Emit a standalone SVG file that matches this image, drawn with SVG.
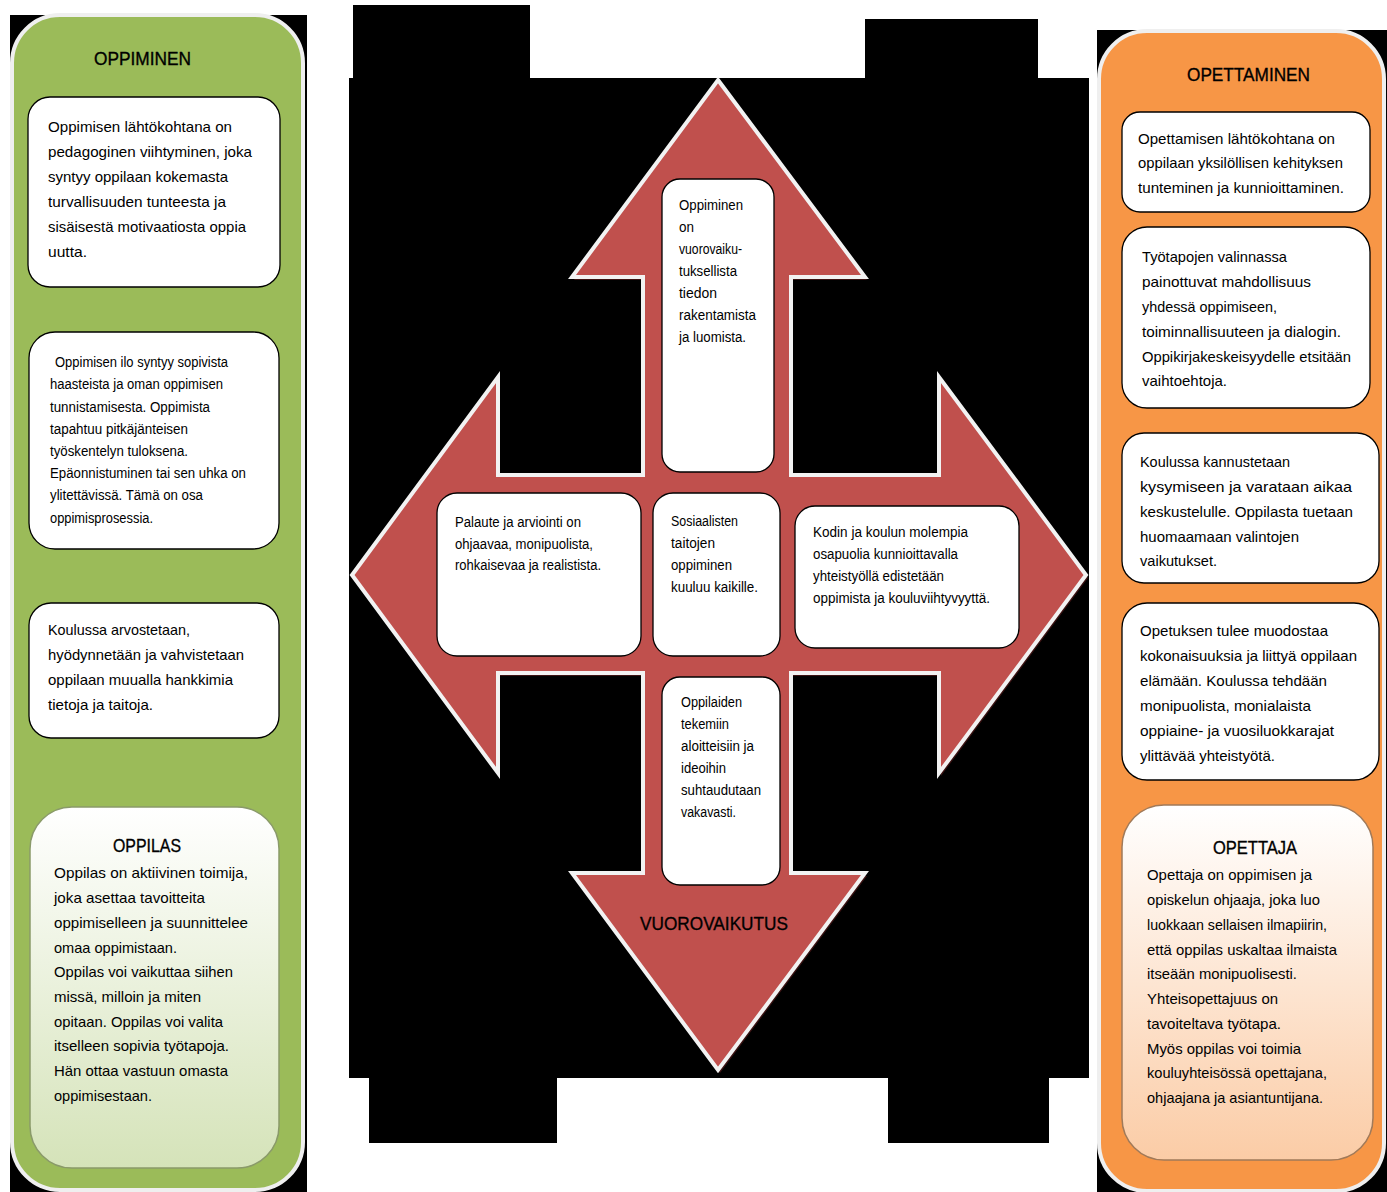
<svg xmlns="http://www.w3.org/2000/svg" width="1387" height="1192" viewBox="0 0 1387 1192">
<defs>
<linearGradient id="gG" x1="0" y1="0" x2="0" y2="1"><stop offset="0" stop-color="#ffffff"/><stop offset="1" stop-color="#d5e3b9"/></linearGradient>
<linearGradient id="gO" x1="0" y1="0" x2="0" y2="1"><stop offset="0" stop-color="#ffffff"/><stop offset="1" stop-color="#fbcca6"/></linearGradient>
<style>
text{font-family:"Liberation Sans",Arial,sans-serif;fill:#000}
.t{font-size:15px}
.s{font-size:14px}
.c{font-size:15.5px}
.h{font-size:19px;stroke:#000;stroke-width:0.35}
.box{fill:#fff;stroke:#000;stroke-width:1.3}
.panel{stroke:#efefef;stroke-width:4}
.blk{fill:#000}
</style>
</defs>
<rect width="1387" height="1192" fill="#fff"/>
<g id="background">
<rect class="blk" x="353" y="5" width="177" height="80"/>
<rect class="blk" x="865" y="19" width="173" height="66"/>
<rect class="blk" x="349" y="78" width="740" height="1000"/>
<rect class="blk" x="369" y="1070" width="188" height="73"/>
<rect class="blk" x="888" y="1070" width="161" height="73"/>
<rect class="blk" x="10" y="15" width="297" height="1177"/>
<rect class="blk" x="1097" y="30" width="290" height="1162"/>
</g>
<g id="oppiminen-panel">
<rect class="panel" x="12" y="15" width="291" height="1175" rx="48" fill="#9bbb59"/>
<text class="h" x="94" y="65" textLength="97" lengthAdjust="spacingAndGlyphs">OPPIMINEN</text>
</g>
<g id="l1">
<rect class="box" x="28" y="97" width="252" height="190" rx="22"/>
<text class="t" x="48" y="132" textLength="184" lengthAdjust="spacingAndGlyphs">Oppimisen lähtökohtana on</text>
<text class="t" x="48" y="157" textLength="204" lengthAdjust="spacingAndGlyphs">pedagoginen viihtyminen, joka</text>
<text class="t" x="48" y="182" textLength="180" lengthAdjust="spacingAndGlyphs">syntyy oppilaan kokemasta</text>
<text class="t" x="48" y="207" textLength="178" lengthAdjust="spacingAndGlyphs">turvallisuuden tunteesta ja</text>
<text class="t" x="48" y="232" textLength="198" lengthAdjust="spacingAndGlyphs">sisäisestä motivaatiosta oppia</text>
<text class="t" x="48" y="257" textLength="39" lengthAdjust="spacingAndGlyphs">uutta.</text>
</g>
<g id="l2">
<rect class="box" x="29" y="332" width="250" height="217" rx="26"/>
<text class="s" x="55" y="367" textLength="173" lengthAdjust="spacingAndGlyphs">Oppimisen ilo syntyy sopivista</text>
<text class="s" x="50" y="389" textLength="173" lengthAdjust="spacingAndGlyphs">haasteista ja oman oppimisen</text>
<text class="s" x="50" y="412" textLength="160" lengthAdjust="spacingAndGlyphs">tunnistamisesta. Oppimista</text>
<text class="s" x="50" y="434" textLength="138" lengthAdjust="spacingAndGlyphs">tapahtuu pitkäjänteisen</text>
<text class="s" x="50" y="456" textLength="138" lengthAdjust="spacingAndGlyphs">työskentelyn tuloksena.</text>
<text class="s" x="50" y="478" textLength="196" lengthAdjust="spacingAndGlyphs">Epäonnistuminen tai sen  uhka on</text>
<text class="s" x="50" y="500" textLength="153" lengthAdjust="spacingAndGlyphs">ylitettävissä.  Tämä on osa</text>
<text class="s" x="50" y="523" textLength="103" lengthAdjust="spacingAndGlyphs">oppimisprosessia.</text>
</g>
<g id="l3">
<rect class="box" x="29" y="603" width="250" height="135" rx="22"/>
<text class="t" x="48" y="635" textLength="142" lengthAdjust="spacingAndGlyphs">Koulussa arvostetaan,</text>
<text class="t" x="48" y="660" textLength="196" lengthAdjust="spacingAndGlyphs">hyödynnetään ja vahvistetaan</text>
<text class="t" x="48" y="685" textLength="185" lengthAdjust="spacingAndGlyphs">oppilaan muualla hankkimia</text>
<text class="t" x="48" y="710" textLength="105" lengthAdjust="spacingAndGlyphs">tietoja ja taitoja.</text>
</g>
<g id="oppilas">
<rect x="30" y="807" width="249" height="361" rx="42" fill="url(#gG)" stroke="#8a9a6a" stroke-width="1.5"/>
<text class="h" x="113" y="852" textLength="68" lengthAdjust="spacingAndGlyphs">OPPILAS</text>
<text class="t" x="54" y="878" textLength="194" lengthAdjust="spacingAndGlyphs">Oppilas on aktiivinen toimija,</text>
<text class="t" x="54" y="903" textLength="151" lengthAdjust="spacingAndGlyphs">joka asettaa tavoitteita</text>
<text class="t" x="54" y="928" textLength="194" lengthAdjust="spacingAndGlyphs">oppimiselleen ja suunnittelee</text>
<text class="t" x="54" y="953" textLength="123" lengthAdjust="spacingAndGlyphs">omaa oppimistaan.</text>
<text class="t" x="54" y="977" textLength="179" lengthAdjust="spacingAndGlyphs">Oppilas voi vaikuttaa siihen</text>
<text class="t" x="54" y="1002" textLength="147" lengthAdjust="spacingAndGlyphs">missä, milloin ja miten</text>
<text class="t" x="54" y="1027" textLength="169" lengthAdjust="spacingAndGlyphs">opitaan. Oppilas voi valita</text>
<text class="t" x="54" y="1051" textLength="175" lengthAdjust="spacingAndGlyphs">itselleen sopivia työtapoja.</text>
<text class="t" x="54" y="1076" textLength="174" lengthAdjust="spacingAndGlyphs">Hän ottaa vastuun omasta</text>
<text class="t" x="54" y="1101" textLength="98" lengthAdjust="spacingAndGlyphs">oppimisestaan.</text>
</g>
<g id="opettaminen-panel">
<rect class="panel" x="1099" y="31" width="285" height="1160" rx="48" fill="#f79646"/>
<text class="h" x="1187" y="81" textLength="123" lengthAdjust="spacingAndGlyphs">OPETTAMINEN</text>
</g>
<g id="r1">
<rect class="box" x="1122" y="112" width="248" height="100" rx="18"/>
<text class="t" x="1138" y="144" textLength="197" lengthAdjust="spacingAndGlyphs">Opettamisen lähtökohtana on</text>
<text class="t" x="1138" y="168" textLength="205" lengthAdjust="spacingAndGlyphs">oppilaan yksilöllisen kehityksen</text>
<text class="t" x="1138" y="193" textLength="206" lengthAdjust="spacingAndGlyphs">tunteminen ja kunnioittaminen.</text>
</g>
<g id="r2">
<rect class="box" x="1122" y="227" width="248" height="181" rx="25"/>
<text class="t" x="1142" y="262" textLength="145" lengthAdjust="spacingAndGlyphs">Työtapojen valinnassa</text>
<text class="t" x="1142" y="287" textLength="169" lengthAdjust="spacingAndGlyphs">painottuvat  mahdollisuus</text>
<text class="t" x="1142" y="312" textLength="135" lengthAdjust="spacingAndGlyphs">yhdessä oppimiseen,</text>
<text class="t" x="1142" y="337" textLength="199" lengthAdjust="spacingAndGlyphs">toiminnallisuuteen ja dialogin.</text>
<text class="t" x="1142" y="362" textLength="209" lengthAdjust="spacingAndGlyphs">Oppikirjakeskeisyydelle etsitään</text>
<text class="t" x="1142" y="386" textLength="85" lengthAdjust="spacingAndGlyphs">vaihtoehtoja.</text>
</g>
<g id="r3">
<rect class="box" x="1122" y="433" width="257" height="150" rx="22"/>
<text class="t" x="1140" y="467" textLength="150" lengthAdjust="spacingAndGlyphs">Koulussa kannustetaan</text>
<text class="t" x="1140" y="492" textLength="212" lengthAdjust="spacingAndGlyphs">kysymiseen ja  varataan aikaa</text>
<text class="t" x="1140" y="517" textLength="213" lengthAdjust="spacingAndGlyphs">keskustelulle.  Oppilasta tuetaan</text>
<text class="t" x="1140" y="542" textLength="159" lengthAdjust="spacingAndGlyphs">huomaamaan valintojen</text>
<text class="t" x="1140" y="566" textLength="77" lengthAdjust="spacingAndGlyphs">vaikutukset.</text>
</g>
<g id="r4">
<rect class="box" x="1122" y="603" width="257" height="177" rx="25"/>
<text class="t" x="1140" y="636" textLength="188" lengthAdjust="spacingAndGlyphs">Opetuksen tulee muodostaa</text>
<text class="t" x="1140" y="661" textLength="217" lengthAdjust="spacingAndGlyphs">kokonaisuuksia ja liittyä oppilaan</text>
<text class="t" x="1140" y="686" textLength="187" lengthAdjust="spacingAndGlyphs">elämään.  Koulussa tehdään</text>
<text class="t" x="1140" y="711" textLength="171" lengthAdjust="spacingAndGlyphs">monipuolista, monialaista</text>
<text class="t" x="1140" y="736" textLength="194" lengthAdjust="spacingAndGlyphs">oppiaine- ja  vuosiluokkarajat</text>
<text class="t" x="1140" y="761" textLength="135" lengthAdjust="spacingAndGlyphs">ylittävää yhteistyötä.</text>
</g>
<g id="opettaja">
<rect x="1122" y="805" width="251" height="355" rx="42" fill="url(#gO)" stroke="#a07a5a" stroke-width="1.5"/>
<text class="h" x="1213" y="854" textLength="84" lengthAdjust="spacingAndGlyphs">OPETTAJA</text>
<text class="t" x="1147" y="880" textLength="165" lengthAdjust="spacingAndGlyphs">Opettaja on oppimisen ja</text>
<text class="t" x="1147" y="905" textLength="173" lengthAdjust="spacingAndGlyphs">opiskelun ohjaaja, joka luo</text>
<text class="t" x="1147" y="930" textLength="180" lengthAdjust="spacingAndGlyphs">luokkaan sellaisen ilmapiirin,</text>
<text class="t" x="1147" y="955" textLength="190" lengthAdjust="spacingAndGlyphs">että oppilas uskaltaa ilmaista</text>
<text class="t" x="1147" y="979" textLength="150" lengthAdjust="spacingAndGlyphs">itseään monipuolisesti.</text>
<text class="t" x="1147" y="1004" textLength="131" lengthAdjust="spacingAndGlyphs">Yhteisopettajuus on</text>
<text class="t" x="1147" y="1029" textLength="134" lengthAdjust="spacingAndGlyphs">tavoiteltava työtapa.</text>
<text class="t" x="1147" y="1054" textLength="154" lengthAdjust="spacingAndGlyphs">Myös oppilas voi toimia</text>
<text class="t" x="1147" y="1078" textLength="180" lengthAdjust="spacingAndGlyphs">kouluyhteisössä opettajana,</text>
<text class="t" x="1147" y="1103" textLength="176" lengthAdjust="spacingAndGlyphs">ohjaajana ja asiantuntijana.</text>
</g>
<g id="arrow">
<polygon transform="translate(2,3)" fill="#3a1212" points="718,80 865,277 791,277 791,475 939,475 939,377 1086,575 939,773 939,673 791,673 791,873 865,873 718,1070 572,873 643,873 643,673 498,673 498,773 352,575 498,377 498,475 643,475 643,277 572,277"/>
<polygon fill="#c0504d" stroke="#f2f2f2" stroke-width="4" stroke-linejoin="miter" points="718,80 865,277 791,277 791,475 939,475 939,377 1086,575 939,773 939,673 791,673 791,873 865,873 718,1070 572,873 643,873 643,673 498,673 498,773 352,575 498,377 498,475 643,475 643,277 572,277"/>
<text class="h" x="640" y="930" textLength="148" lengthAdjust="spacingAndGlyphs">VUOROVAIKUTUS</text>
</g>
<g id="c-top">
<rect class="box" x="662" y="179" width="112" height="293" rx="18"/>
<text class="c" x="679" y="210" textLength="64" lengthAdjust="spacingAndGlyphs">Oppiminen</text>
<text class="c" x="679" y="232" textLength="15" lengthAdjust="spacingAndGlyphs">on</text>
<text class="c" x="679" y="254" textLength="63" lengthAdjust="spacingAndGlyphs">vuorovaiku-</text>
<text class="c" x="679" y="276" textLength="58" lengthAdjust="spacingAndGlyphs">tuksellista</text>
<text class="c" x="679" y="298" textLength="38" lengthAdjust="spacingAndGlyphs">tiedon</text>
<text class="c" x="679" y="320" textLength="77" lengthAdjust="spacingAndGlyphs">rakentamista</text>
<text class="c" x="679" y="342" textLength="67" lengthAdjust="spacingAndGlyphs">ja luomista.</text>
</g>
<g id="c-left">
<rect class="box" x="437" y="493" width="204" height="163" rx="20"/>
<text class="c" x="455" y="527" textLength="126" lengthAdjust="spacingAndGlyphs">Palaute ja arviointi on</text>
<text class="c" x="455" y="549" textLength="138" lengthAdjust="spacingAndGlyphs">ohjaavaa, monipuolista,</text>
<text class="c" x="455" y="570" textLength="146" lengthAdjust="spacingAndGlyphs">rohkaisevaa ja realistista.</text>
</g>
<g id="c-mid">
<rect class="box" x="653" y="493" width="127" height="163" rx="20"/>
<text class="c" x="671" y="526" textLength="67" lengthAdjust="spacingAndGlyphs">Sosiaalisten</text>
<text class="c" x="671" y="548" textLength="44" lengthAdjust="spacingAndGlyphs">taitojen</text>
<text class="c" x="671" y="570" textLength="61" lengthAdjust="spacingAndGlyphs">oppiminen</text>
<text class="c" x="671" y="592" textLength="87" lengthAdjust="spacingAndGlyphs">kuuluu kaikille.</text>
</g>
<g id="c-right">
<rect class="box" x="795" y="506" width="224" height="142" rx="20"/>
<text class="c" x="813" y="537" textLength="155" lengthAdjust="spacingAndGlyphs">Kodin ja koulun  molempia</text>
<text class="c" x="813" y="559" textLength="145" lengthAdjust="spacingAndGlyphs">osapuolia kunnioittavalla</text>
<text class="c" x="813" y="581" textLength="131" lengthAdjust="spacingAndGlyphs">yhteistyöllä edistetään</text>
<text class="c" x="813" y="603" textLength="177" lengthAdjust="spacingAndGlyphs">oppimista ja kouluviihtyvyyttä.</text>
</g>
<g id="c-bottom">
<rect class="box" x="662" y="677" width="118" height="208" rx="18"/>
<text class="c" x="681" y="707" textLength="61" lengthAdjust="spacingAndGlyphs">Oppilaiden</text>
<text class="c" x="681" y="729" textLength="48" lengthAdjust="spacingAndGlyphs">tekemiin</text>
<text class="c" x="681" y="751" textLength="73" lengthAdjust="spacingAndGlyphs">aloitteisiin ja</text>
<text class="c" x="681" y="773" textLength="45" lengthAdjust="spacingAndGlyphs">ideoihin</text>
<text class="c" x="681" y="795" textLength="80" lengthAdjust="spacingAndGlyphs">suhtaudutaan</text>
<text class="c" x="681" y="817" textLength="55" lengthAdjust="spacingAndGlyphs">vakavasti.</text>
</g>
</svg>
